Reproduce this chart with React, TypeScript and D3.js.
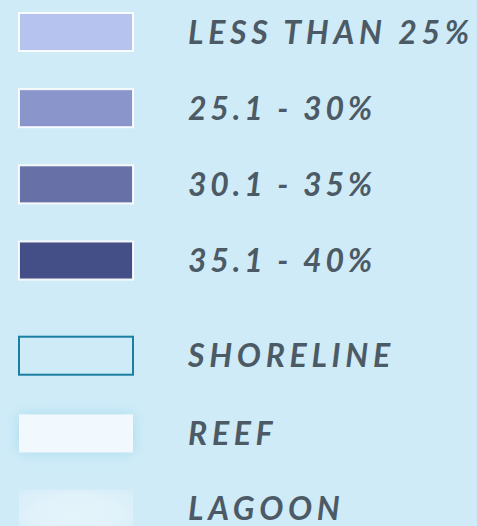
import React from "react";
import * as d3 from "d3";

const labels = ["LESS THAN 25%", "25.1 - 30%", "30.1 - 35%", "35.1 - 40%", "SHORELINE", "REEF", "LAGOON"];
const kinds = ["fill", "fill", "fill", "fill", "shore", "reef", "lagoon"];
const fills = ["#b6c3ee", "#8a95cc", "#6771a8", "#444f88", "none", "#f2f9fe", "#e2f3fb"];

const W = 477, H = 526;

export default function App() {
  const slots = [0, 1, 2, 3, 4.25, 5.27, 6.26];
  const y = d3.scaleLinear().domain([0, 6]).range([13, 470]);
  const rectH = 38, rectX = 19, rectW = 114;
  return (
    <div style={{ position: "fixed", left: 0, top: 0, width: W, height: H, background: "#cfebf8" }}>
      <svg width={W} height={H} style={{ display: "block" }}>
        <defs>
          <filter id="glow" x="-50%" y="-100%" width="200%" height="300%">
            <feDropShadow dx="0" dy="0" stdDeviation="7" floodColor="#a8dbec" floodOpacity="1" />
          </filter>
          <radialGradient id="lag" cx="50%" cy="50%" r="65%">
            <stop offset="0%" stopColor="#e5f4fb" />
            <stop offset="55%" stopColor="#e1f2fa" />
            <stop offset="100%" stopColor="#d7eef9" />
          </radialGradient>
          <filter id="soft" x="-10%" y="-20%" width="120%" height="140%">
            <feGaussianBlur stdDeviation="0.6" />
          </filter>
        </defs>
        <rect width={W} height={H} fill="#cfebf8" />
        {labels.map((lab, i) => {
          const top = y(slots[i]);
          const k = kinds[i];
          const numeric = /\d/.test(lab[0]);
          return (
            <g key={lab}>
              {k === "fill" && (
                <rect x={rectX} y={top} width={rectW} height={rectH} fill={fills[i]} stroke="#ffffff" strokeOpacity={0.9} strokeWidth={2} />
              )}
              {k === "shore" && (
                <rect x={rectX} y={top} width={rectW} height={rectH} fill="none" stroke="#1a7fa2" strokeWidth={2} />
              )}
              {k === "reef" && (
                <rect x={rectX} y={top} width={rectW} height={rectH} fill={fills[i]} filter="url(#glow)" />
              )}
              {k === "lagoon" && (
                <rect x={rectX} y={top} width={rectW} height={rectH + 10} fill="url(#lag)" filter="url(#soft)" />
              )}
              <text
                x={188}
                y={top + rectH / 2}
                dy="0.36em"
                fill="#4c5a65"
                fontFamily="Lato, 'Open Sans', sans-serif"
                fontWeight={700}
                fontStyle="italic"
                fontSize={32}
                letterSpacing={numeric ? 3.8 : 4.7}
              >
                {lab}
              </text>
            </g>
          );
        })}
      </svg>
    </div>
  );
}
